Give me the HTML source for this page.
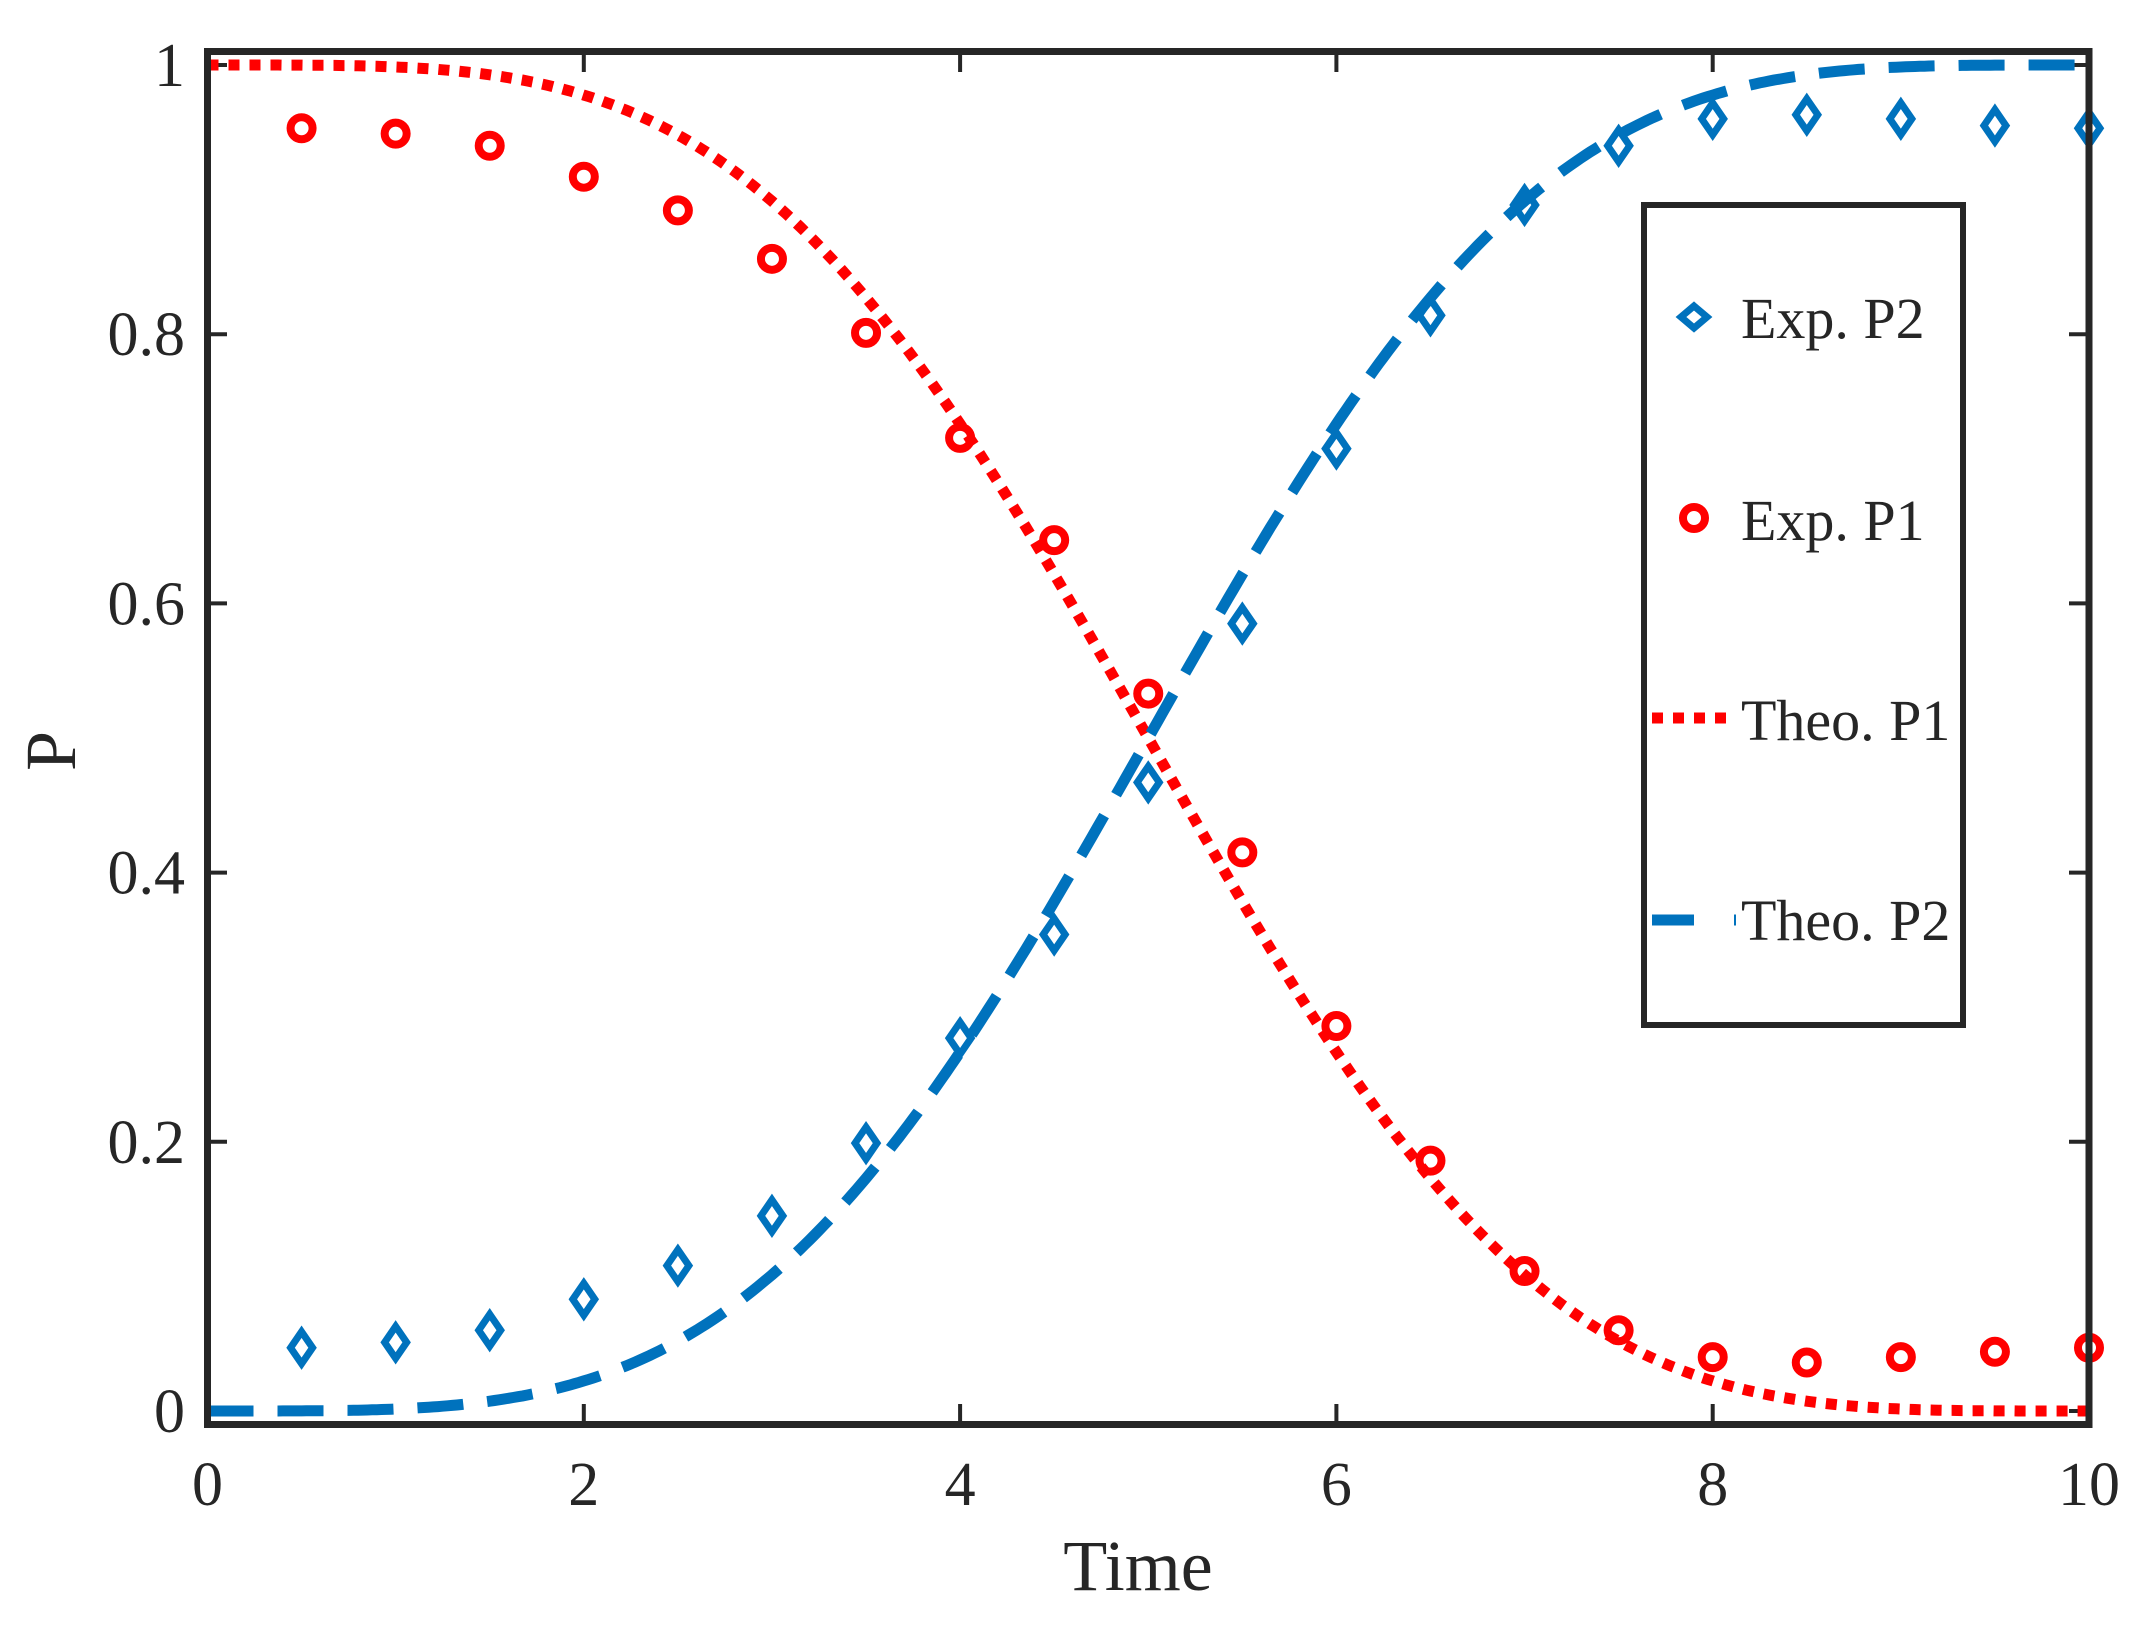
<!DOCTYPE html>
<html><head><meta charset="utf-8"><style>
html,body{margin:0;padding:0;background:#fff;}
svg{display:block;}
text{font-family:"Liberation Serif",serif;fill:#262626;}
</style></head><body>
<svg id="s" width="2150" height="1630" viewBox="0 0 2150 1630" xmlns="http://www.w3.org/2000/svg">
<rect width="2150" height="1630" fill="#fff"/>
<g id="ticks" stroke="#262626" stroke-width="4"></g>
<path id="p1" fill="none" stroke="#ff0000" stroke-width="11" stroke-dasharray="11 10"/>
<path id="p2" fill="none" stroke="#0072bd" stroke-width="11" stroke-dasharray="46 24"/>
<g id="mk"></g>
<rect x="207.5" y="51.5" width="1881.5" height="1373" fill="none" stroke="#262626" stroke-width="7"/>
<g id="lab" font-size="62"></g>
<text x="1138" y="1590" font-size="72" text-anchor="middle">Time</text>
<text x="0" y="0" font-size="72" text-anchor="middle" transform="translate(75,751) rotate(-90)">P</text>
<rect x="1644" y="205" width="319" height="820" fill="#fff" stroke="#262626" stroke-width="6"/>
<g font-size="58">
<text x="1741" y="338" fill="#000">Exp. P2</text>
<text x="1741" y="540" fill="#000">Exp. P1</text>
<text x="1741" y="740" fill="#000">Theo. P1</text>
<text x="1741" y="940" fill="#000">Theo. P2</text>
</g>
<path d="M1652 718 H1735" stroke="#ff0000" stroke-width="11" stroke-dasharray="11 10"/>
<path d="M1652 920 H1694 M1734 920 H1736" stroke="#0072bd" stroke-width="11"/>
<path d="M1694 306 l13 11 l-13 11 l-13 -11 z" fill="none" stroke="#0072bd" stroke-width="7"/>
<circle cx="1694" cy="518" r="11" fill="none" stroke="#ff0000" stroke-width="8"/>
</svg>
<script>
const X=t=>207.5+t*188.15, Y=p=>1411-p*1346;
const ns="http://www.w3.org/2000/svg";
function el(n,a,par){const e=document.createElementNS(ns,n);for(const k in a)e.setAttribute(k,a[k]);document.getElementById(par).appendChild(e);return e;}
let d1="",d2="";
for(let i=0;i<=400;i++){const t=i*10/400;const th=Math.PI/2*(1-Math.cos(Math.PI*t/10))/2;const q=Math.sin(th)**2;
d1+=(i?"L":"M")+X(t).toFixed(1)+" "+Y(1-q).toFixed(1);d2+=(i?"L":"M")+X(t).toFixed(1)+" "+Y(q).toFixed(1);}
document.getElementById("p1").setAttribute("d",d1);document.getElementById("p2").setAttribute("d",d2);
const e1=[.953,.949,.940,.917,.892,.856,.801,.723,.647,.533,.415,.286,.186,.104,.060,.040,.036,.040,.044,.047];
const e2=[.047,.051,.060,.083,.108,.145,.199,.277,.354,.467,.585,.715,.814,.896,.940,.960,.963,.960,.955,.953];
e1.forEach((p,i)=>{const t=(i+1)*0.5;el("circle",{cx:X(t),cy:Y(p),r:11,fill:"none",stroke:"#ff0000","stroke-width":8},"mk");});
e2.forEach((p,i)=>{const x=X((i+1)*0.5),y=Y(p);el("path",{d:`M${x} ${y-16} l11 16 l-11 16 l-11 -16 z`,fill:"none",stroke:"#0072bd","stroke-width":7},"mk");});
for(let k=0;k<=5;k++){const p=k*0.2,y=Y(p);
el("path",{d:`M207 ${y} h20 M2089 ${y} h-20`},"ticks");
const t=el("text",{x:185,y:y+21,"text-anchor":"end"},"lab");t.textContent=k==0?"0":k==5?"1":p.toFixed(1);}
for(let k=0;k<=5;k++){const t=k*2,x=X(t);
el("path",{d:`M${x} 1424 v-20 M${x} 52 v20`},"ticks");
const tx=el("text",{x:x,y:1505,"text-anchor":"middle"},"lab");tx.textContent=String(t);}
</script>
</body></html>
